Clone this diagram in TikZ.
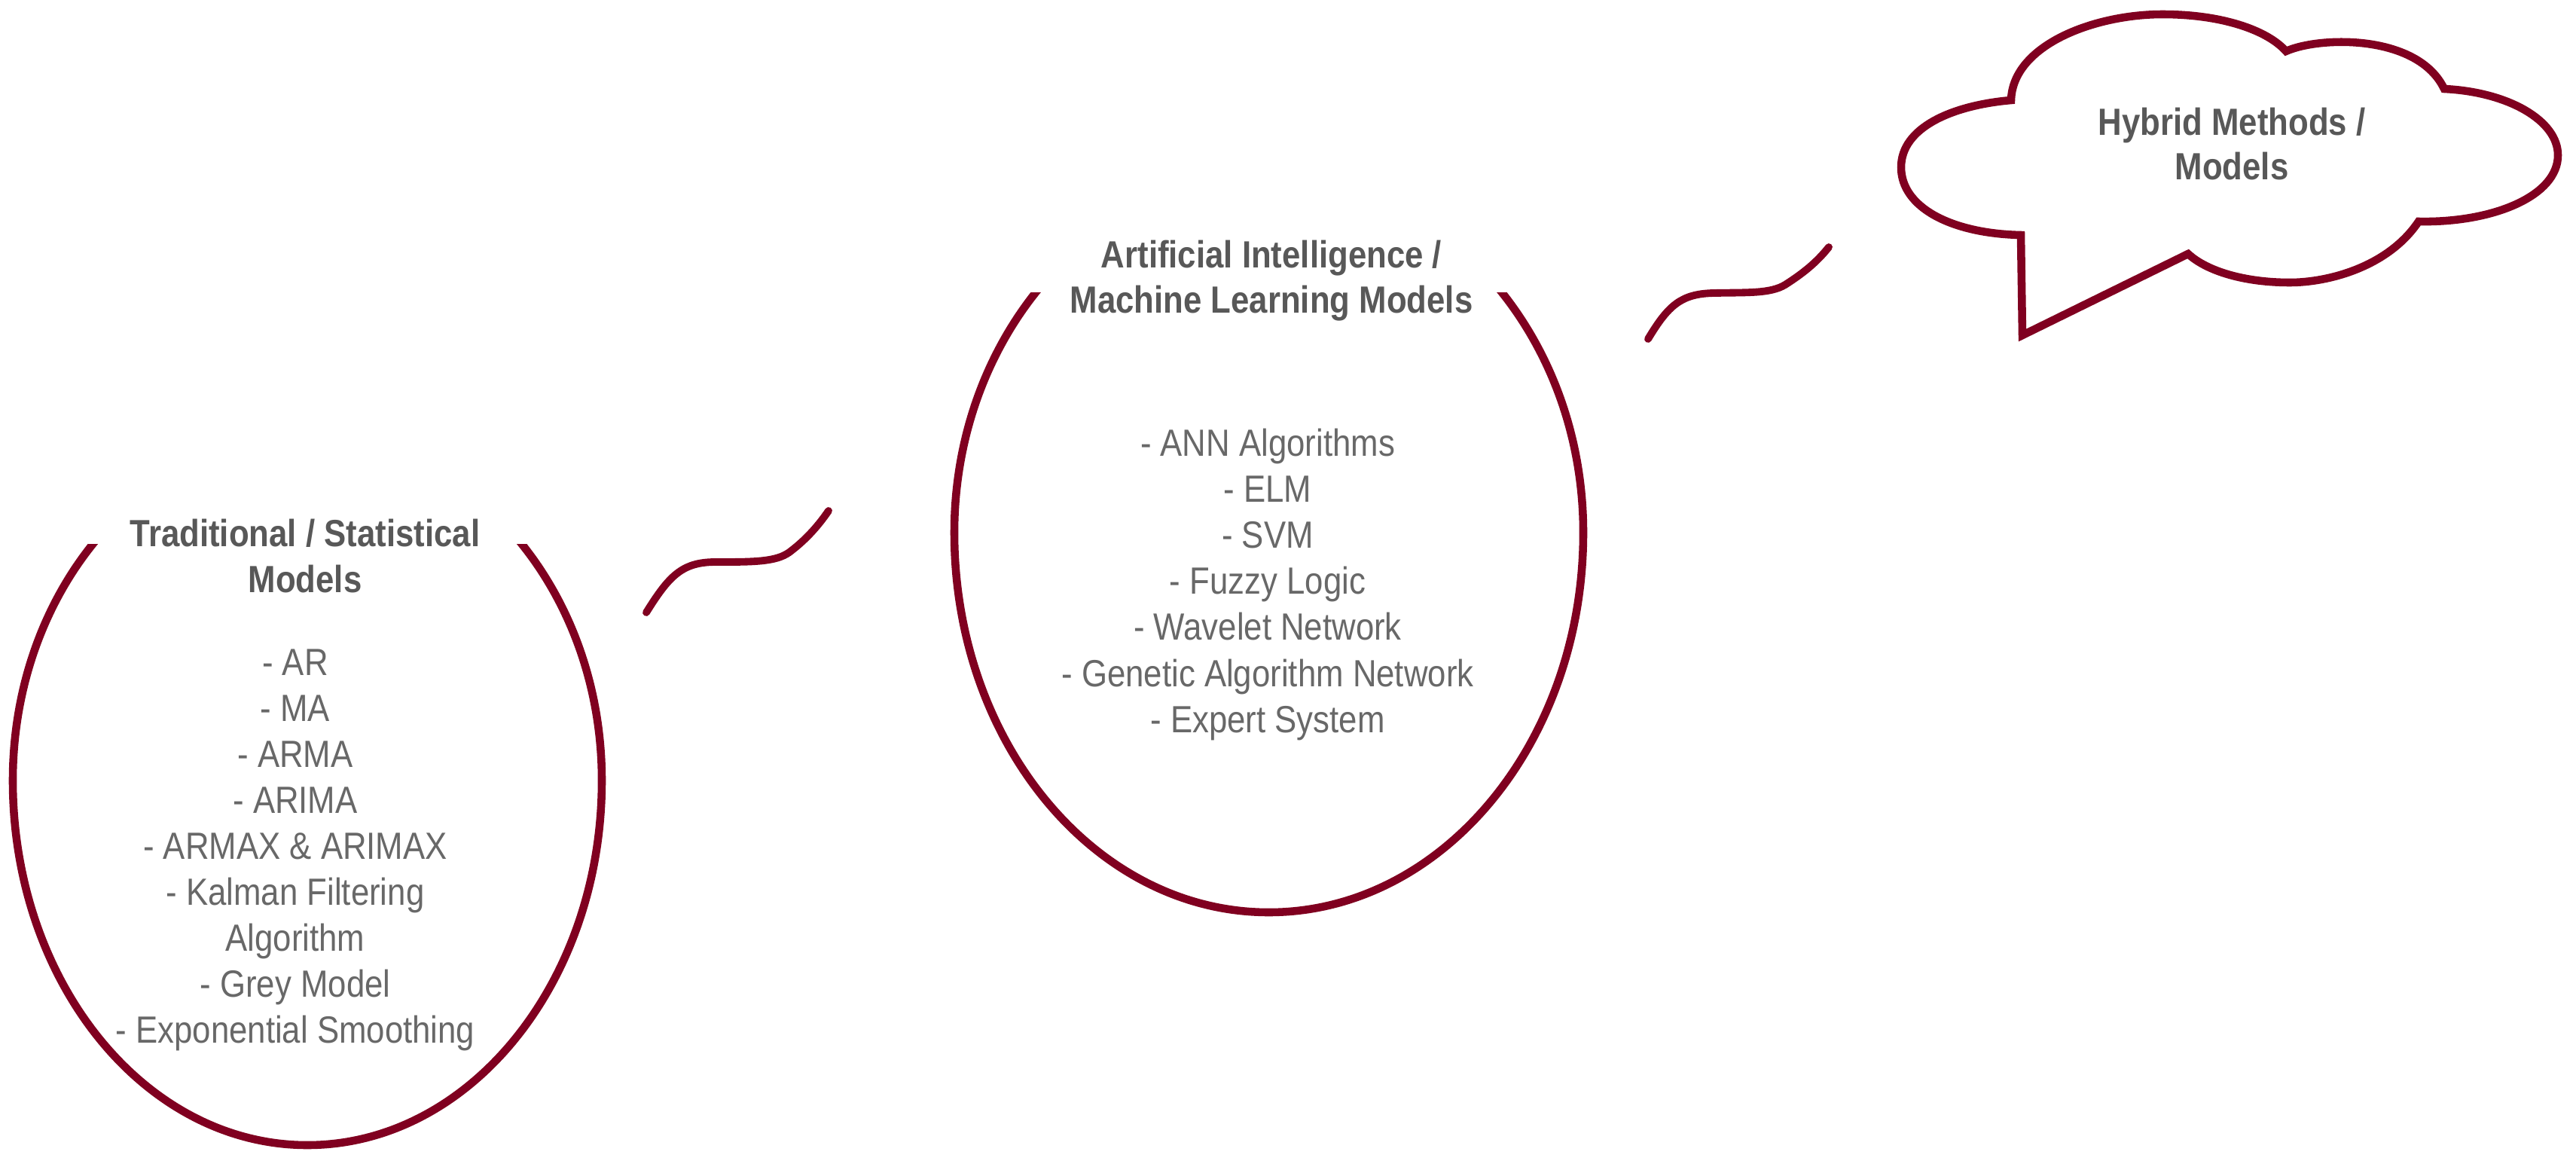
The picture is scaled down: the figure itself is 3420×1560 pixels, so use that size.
\documentclass[tikz,border=0pt]{standalone}
\usepackage{fontspec}
\setmainfont{Liberation Sans}[FakeStretch=0.87]
\definecolor{burg}{RGB}{128,0,32}
\definecolor{headgrey}{RGB}{88,88,88}
\definecolor{itemgrey}{RGB}{104,104,104}
\begin{document}
\begin{tikzpicture}[x=0.01cm, y=-0.01cm,
  outline/.style={draw=burg, line width=3pt},
  squig/.style={draw=burg, line width=2.8pt, line cap=round},
  head/.style={font=\fontsize{14.3pt}{17pt}\selectfont\bfseries, text=headgrey, inner sep=0pt, anchor=base},
  item/.style={font=\fontsize{14.3pt}{17pt}\selectfont, text=itemgrey, inner sep=0pt, anchor=base}]
\useasboundingbox[fill=white] (0,0) rectangle (3420,1560);

% ---------- left ellipse ----------
\begin{scope}
  \clip (0,722) rectangle (1000,1560);
  \draw[outline] (17,1036) arc[start angle=180,end angle=0,x radius=391,y radius=484]
                 arc[start angle=0,end angle=-180,x radius=391,y radius=458] -- cycle;
\end{scope}
\node[head] (lt1) at (405,725) {Traditional / Statistical};
\node[head] (lt2) at (405,786) {Models};
\foreach \t [count=\i] in {- AR,- MA,- ARMA,- ARIMA,- ARMAX \& ARIMAX,- Kalman Filtering,Algorithm,- Grey Model,- Exponential Smoothing}
  \node[item] (li\i) at (392,{896+61*(\i-1)}) {\t};

% ---------- middle ellipse ----------
\begin{scope}
  \clip (1100,388) rectangle (2300,1560);
  \draw[outline] (1267,707) arc[start angle=180,end angle=0,x radius=417.5,y radius=504]
                 arc[start angle=0,end angle=-180,x radius=417.5,y radius=475] -- cycle;
\end{scope}
\node[head] (mt1) at (1688,355) {Artificial Intelligence /};
\node[head] (mt2) at (1688,415) {Machine Learning Models};
\foreach \t [count=\i] in {- ANN Algorithms,- ELM,- SVM,- Fuzzy Logic,- Wavelet Network,- Genetic Algorithm Network,- Expert System}
  \node[item] (mi\i) at (1683,{605+61.2*(\i-1)}) {\t};

% ---------- cloud ----------
\coordinate (L)  at (2683,312);
\coordinate (N1) at (2670,133);
\coordinate (N2) at (3035,68);
\coordinate (N3) at (3245,118);
\coordinate (N4) at (3211,294);
\coordinate (N5) at (2905,337);
\coordinate (T)  at (2685,445);
\draw[outline, line join=miter]
  (L) .. controls (2590,310) and (2524,275) .. (2524,222)
      .. controls (2524,170) and (2590,140) .. (N1)
      .. controls (2672,60) and (2780,19) .. (2871,19)
      .. controls (2950,19) and (3010,40) .. (N2)
      .. controls (3080,48) and (3210,45) .. (N3)
      .. controls (3330,122) and (3396,160) .. (3396,206)
      .. controls (3396,260) and (3310,296) .. (N4)
      .. controls (3170,355) and (3090,375) .. (3040,375)
      .. controls (2980,375) and (2930,360) .. (N5)
      -- (T) -- cycle;
\node[head] (ct1) at (2963,179) {Hybrid Methods /};
\node[head] (ct2) at (2963,238) {Models};

% ---------- squiggles ----------
\coordinate (s1a) at (858,813);
\coordinate (s1b) at (1100,678);
\draw[squig] (s1a) .. controls (888,765) and (905,746) .. (950,746)
                   .. controls (1000,746) and (1030,746) .. (1048,733)
                   .. controls (1068,718) and (1085,700) .. (s1b);
\coordinate (s2a) at (2188,450);
\coordinate (s2b) at (2428,328);
\draw[squig] (s2a) .. controls (2215,405) and (2232,390) .. (2275,389)
                   .. controls (2320,388) and (2350,390) .. (2370,378)
                   .. controls (2395,362) and (2412,348) .. (s2b);
\end{tikzpicture}
\end{document}
